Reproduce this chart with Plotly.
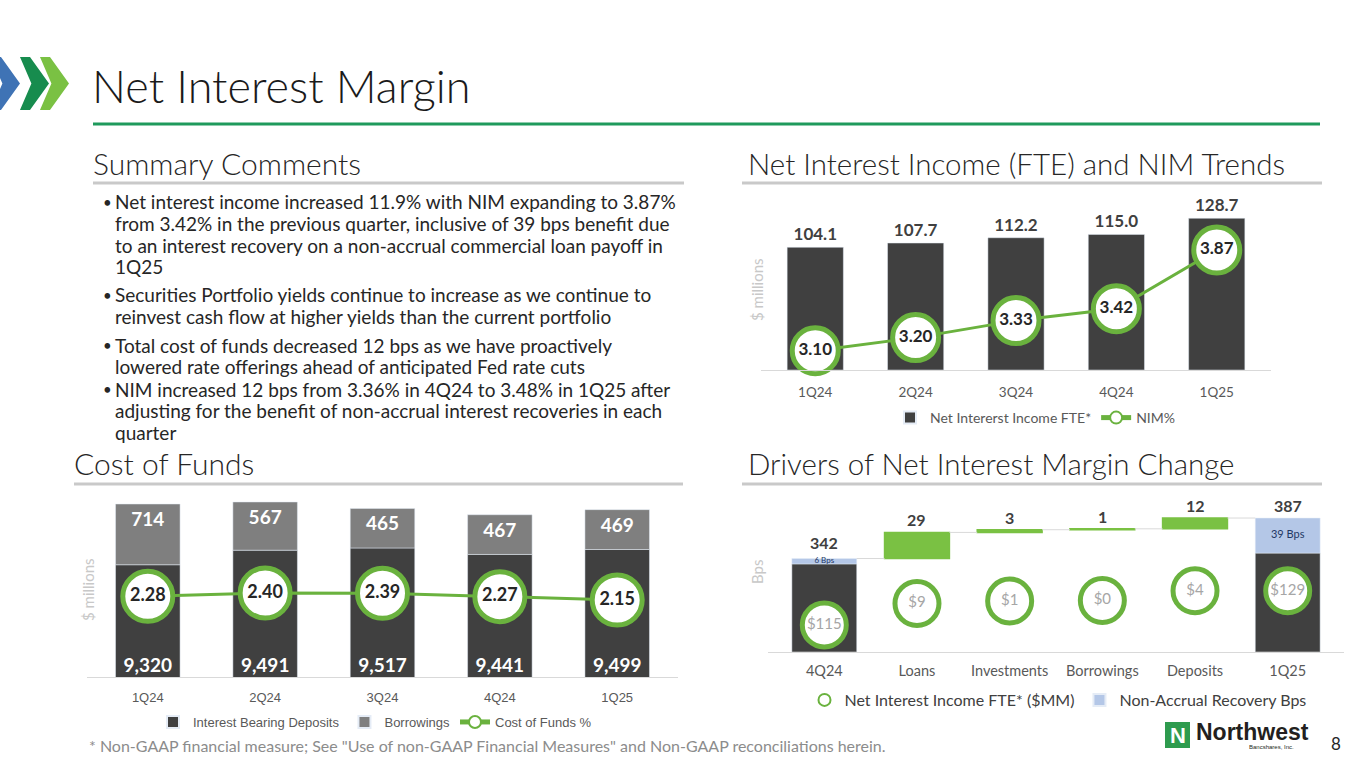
import plotly.graph_objects as go

W, H = 1365, 768

# ---------------------------------------------------------------------------
# DATA
# ---------------------------------------------------------------------------
quarters = ["1Q24", "2Q24", "3Q24", "4Q24", "1Q25"]
nii_fte = [104.1, 107.7, 112.2, 115.0, 128.7]          # $ millions
nim_pct = [3.10, 3.20, 3.33, 3.42, 3.87]

deposits = [9320, 9491, 9517, 9441, 9499]             # interest bearing deposits, $MM
borrowings = [714, 567, 465, 467, 469]
cost_of_funds = [2.28, 2.40, 2.39, 2.27, 2.15]

drivers = ["4Q24", "Loans", "Investments", "Borrowings", "Deposits", "1Q25"]
nim_start_bps = 342
driver_bps = [29, 3, 1, 12]
nim_end_bps = 387
recovery_bps = [6, 39]                                # 4Q24, 1Q25
nii_start = 115.0
nii_change = [8.6, 1.0, 0.2, 3.9]
nii_end = 128.7

bullets = [
    ["Net interest income increased 11.9% with NIM expanding to 3.87%",
     "from 3.42% in the previous quarter, inclusive of 39 bps benefit due",
     "to an interest recovery on a non-accrual commercial loan payoff in",
     "1Q25"],
    ["Securities Portfolio yields continue to increase as we continue to",
     "reinvest cash flow at higher yields than the current portfolio"],
    ["Total cost of funds decreased 12 bps as we have proactively",
     "lowered rate offerings ahead of anticipated Fed rate cuts"],
    ["NIM increased 12 bps from 3.36% in 4Q24 to 3.48% in 1Q25 after",
     "adjusting for the benefit of non-accrual interest recoveries in each",
     "quarter"],
]

# ---------------------------------------------------------------------------
# STYLE
# ---------------------------------------------------------------------------
GEO = "Lato, 'Open Sans', sans-serif"
CAL = "'Liberation Sans Narrow', 'Liberation Sans', Arial, sans-serif"
DARK = "#404040"
MID = "#7f7f7f"
GREEN = "#6ab23e"
BAR_GREEN = "#7ac143"
LIGHT_BLUE = "#b4c7e7"
RULE = "#c9c9c9"


def px(x):
    return x / W


def py(y):
    return 1 - y / H


# waterfall levels
levels = [nim_start_bps]
for d in driver_bps:
    levels.append(levels[-1] + d)
nii_levels = [nii_start]
for c in nii_change:
    nii_levels.append(nii_levels[-1] + c)
nii_levels.append(nii_end)
bubble_text = [f"${nii_start:.0f}"] + [f"${c:.0f}" for c in nii_change] + [f"${nii_end:.0f}"]

fig = go.Figure()

# ---------------------------------------------------------------------------
# NET INTEREST INCOME & NIM
# ---------------------------------------------------------------------------
fig.add_trace(go.Bar(
    x=quarters, y=nii_fte, name="Net Intererst Income FTE*", marker_color=DARK, width=0.56,
    text=[f"{v:.1f}" for v in nii_fte], textposition="outside", cliponaxis=False,
    textfont=dict(family=GEO, size=17, color=DARK, weight="bold"),
    xaxis="x", yaxis="y", legend="legend"))
fig.add_trace(go.Scatter(
    x=quarters, y=nim_pct, name="NIM%", mode="lines+markers+text",
    line=dict(color=GREEN, width=3),
    marker=dict(size=46, color="white", line=dict(color=GREEN, width=5)),
    text=[f"{v:.2f}" for v in nim_pct], textposition="middle center", cliponaxis=False,
    textfont=dict(family=GEO, size=17, color="#262626", weight="bold"),
    xaxis="x", yaxis="y2", legend="legend"))

# ---------------------------------------------------------------------------
# COST OF FUNDS
# ---------------------------------------------------------------------------
COF_MIN = 8000
fig.add_trace(go.Bar(
    x=quarters, y=deposits, name="Interest Bearing Deposits", marker_color=DARK, width=0.55,
    xaxis="x2", yaxis="y3", legend="legend2"))
fig.add_trace(go.Bar(
    x=quarters, y=borrowings, base=deposits, name="Borrowings", marker_color=MID, width=0.55,
    text=[f"{v:,}" for v in borrowings], textposition="inside", insidetextanchor="end",
    textfont=dict(family=GEO, size=19, color="white", weight="bold"),
    xaxis="x2", yaxis="y3", legend="legend2"))
fig.add_trace(go.Scatter(
    x=quarters, y=[COF_MIN] * len(quarters), mode="text", showlegend=False,
    text=[f"{v:,}" for v in deposits], textposition="top center", cliponaxis=False,
    textfont=dict(family=GEO, size=19, color="white", weight="bold"),
    xaxis="x2", yaxis="y3", hoverinfo="skip"))
fig.add_trace(go.Scatter(
    x=quarters, y=cost_of_funds, name="Cost of Funds %", mode="lines+markers+text",
    line=dict(color=GREEN, width=3),
    marker=dict(size=50, color="white", line=dict(color=GREEN, width=5)),
    text=[f"{v:.2f}" for v in cost_of_funds], textposition="middle center", cliponaxis=False,
    textfont=dict(family=GEO, size=18, color="#262626", weight="bold"),
    xaxis="x2", yaxis="y4", legend="legend2"))

# ---------------------------------------------------------------------------
# DRIVERS OF NIM CHANGE (waterfall)
# ---------------------------------------------------------------------------
WF_W = 0.70
ends = [drivers[0], drivers[-1]]
core = [nim_start_bps - recovery_bps[0], nim_end_bps - recovery_bps[1]]
fig.add_trace(go.Bar(
    x=ends, y=core, marker_color=DARK, width=WF_W, showlegend=False,
    xaxis="x3", yaxis="y5", hoverinfo="skip"))
fig.add_trace(go.Bar(
    x=drivers[1:5], y=driver_bps, base=levels[:-1], width=WF_W, showlegend=False,
    marker=dict(color=BAR_GREEN, line=dict(color=BAR_GREEN, width=1.5)),
    xaxis="x3", yaxis="y5"))
fig.add_trace(go.Scatter(
    x=drivers, y=nii_levels, name="Net Interest Income FTE* ($MM)", mode="markers+text",
    marker=dict(size=44, color="white", line=dict(color=GREEN, width=5)),
    text=bubble_text, textposition="middle center", cliponaxis=False,
    textfont=dict(family=GEO, size=15, color="#a6a6a6"),
    xaxis="x3", yaxis="y6", legend="legend3"))
fig.add_trace(go.Bar(
    x=ends, y=recovery_bps, base=core, name="Non-Accrual Recovery Bps", marker_color=LIGHT_BLUE,
    width=WF_W, xaxis="x3", yaxis="y5", legend="legend3"))
fig.add_trace(go.Scatter(
    x=ends, y=[c + r / 2 for c, r in zip(core, recovery_bps)], mode="text", showlegend=False,
    text=[f"{r} Bps" for r in recovery_bps], textposition="middle center", cliponaxis=False,
    textfont=dict(family=GEO, size=[8, 11], color="#1f3864"),
    xaxis="x3", yaxis="y5", hoverinfo="skip"))

shapes = []
annotations = []

# step labels above each waterfall bar
tops = [nim_start_bps] + levels[1:] + [nim_end_bps]
top_text = [str(nim_start_bps)] + [str(d) for d in driver_bps] + [str(nim_end_bps)]
for i, (cat, t, s) in enumerate(zip(drivers, tops, top_text)):
    annotations.append(dict(x=cat, y=t, xref="x3", yref="y5", text=s, showarrow=False,
                            yanchor="bottom", yshift=5 if i == 0 else 1,
                            font=dict(family=GEO, size=16, color=DARK, weight="bold")))

# connector lines between waterfall steps
step_levels = levels + [nim_end_bps]
for i in range(len(drivers) - 1):
    shapes.append(dict(type="line", xref="x3", yref="y5",
                       x0=i + WF_W / 2, x1=i + 1 - WF_W / 2,
                       y0=step_levels[i], y1=step_levels[i],
                       line=dict(color="#d9d9d9", width=1)))

# ---------------------------------------------------------------------------
# SLIDE DECORATION
# ---------------------------------------------------------------------------
def chevron(x0, color, t=10, d=19, top=57, bot=110):
    mid = (top + bot) / 2
    pts = [(x0, top), (x0 + t, top), (x0 + t + d, mid), (x0 + t, bot), (x0, bot), (x0 + d * 0.6, mid)]
    path = "M " + " L ".join(f"{px(a):.5f},{py(b):.5f}" for a, b in pts) + " Z"
    return dict(type="path", xref="paper", yref="paper", path=path, fillcolor=color, line=dict(width=0))


shapes += [chevron(-9, "#3f73b5"), chevron(20, "#178c4e"), chevron(40, "#7ac143")]


def rule(x0, x1, y, color, width):
    return dict(type="line", xref="paper", yref="paper", x0=px(x0), x1=px(x1), y0=py(y), y1=py(y),
                line=dict(color=color, width=width))


shapes += [
    rule(93, 1320, 124, "#1f9a5c", 3),
    rule(93, 684, 183, RULE, 3),
    rule(742, 1322, 183, RULE, 3),
    rule(74, 683, 484, RULE, 3),
    rule(742, 1322, 484, RULE, 3),
]
# logo box
shapes.append(dict(type="rect", xref="paper", yref="paper", x0=px(1165), x1=px(1190), y0=py(748), y1=py(722),
                   fillcolor="#2e9b4e", line=dict(width=0)))


def text(x, y, s, size, color="#262626", family=GEO, weight=None, anchor="left", angle=0):
    f = dict(family=family, size=size, color=color)
    if weight:
        f["weight"] = weight
    annotations.append(dict(x=px(x), y=py(y), xref="paper", yref="paper", text=s, showarrow=False,
                            xanchor=anchor, yanchor="middle", font=f, textangle=angle))


text(90, 86, "Net Interest Margin", 45, "#1a1a1a", weight=300)
text(91, 163, "Summary Comments", 30, weight=300)
text(746, 163, "Net Interest Income (FTE) and NIM Trends", 29.5, weight=300)
text(72, 463, "Cost of Funds", 30, weight=300)
text(746, 463, "Drivers of Net Interest Margin Change", 29.5, weight=300)

starts = [202, 295, 345, 389]
for lines, y0 in zip(bullets, starts):
    text(101, y0, "•", 15)
    for k, line in enumerate(lines):
        text(113, y0 + k * 21.5, line, 19)

text(757, 290, "$ millions", 15, "#c8c8c8", angle=-90, anchor="center")
text(88, 590, "$ millions", 15, "#c8c8c8", angle=-90, anchor="center")
text(757, 572, "Bps", 15, "#c8c8c8", angle=-90, anchor="center")

text(87, 745, "* Non-GAAP financial measure; See \"Use of non-GAAP Financial Measures\" and Non-GAAP reconciliations herein.",
     16, "#8c8c8c")
text(1177.5, 735, "N", 22, "white", family="'Liberation Sans', Arial", weight="bold", anchor="center")
text(1194, 732, "Northwest", 23, "#231f20", family="'Liberation Sans', Arial", weight="bold")
text(1296, 747, "Bancshares, Inc.", 6, "#231f20", family="'Liberation Sans', Arial", anchor="right")
text(1336, 743, "8", 17, "#262626", anchor="center")

# ---------------------------------------------------------------------------
# LAYOUT
# ---------------------------------------------------------------------------
hidden = dict(visible=False, showgrid=False, zeroline=False, fixedrange=True)
cat_axis = dict(showline=True, linecolor="#d9d9d9", linewidth=1, showgrid=False, zeroline=False,
                ticks="", fixedrange=True, type="category", categoryorder="array")

fig.update_layout(
    width=W, height=H, margin=dict(l=0, r=0, t=0, b=0),
    paper_bgcolor="white", plot_bgcolor="rgba(0,0,0,0)",
    barmode="overlay", showlegend=True,
    xaxis=dict(cat_axis, categoryarray=quarters, domain=[px(761), px(1271)], anchor="y",
               ticklabelstandoff=10, tickfont=dict(family=GEO, size=13.5, color="#595959")),
    yaxis=dict(hidden, domain=[py(370), py(200)], range=[0, 144.2]),
    yaxis2=dict(hidden, overlaying="y", range=[2.9525, 4.252]),
    xaxis2=dict(cat_axis, categoryarray=quarters, domain=[px(87), px(678)], anchor="y3",
                ticklabelstandoff=8, tickfont=dict(family=CAL, size=13, color="#595959")),
    yaxis3=dict(hidden, domain=[py(677), py(495)], range=[COF_MIN, 10140], anchor="x2"),
    yaxis4=dict(hidden, overlaying="y3", range=[-0.6, 5.9], anchor="x2"),
    xaxis3=dict(cat_axis, categoryarray=drivers, domain=[px(768), px(1344)], anchor="y5",
                ticklabelstandoff=6, tickfont=dict(family=GEO, size=14.5, color="#595959")),
    yaxis5=dict(hidden, domain=[py(651.7), py(495)], range=[238.4, 412.6], anchor="x3"),
    yaxis6=dict(hidden, overlaying="y5", range=[104.32, 167], anchor="x3"),
    legend=dict(x=px(1035), y=py(418), xanchor="center", yanchor="middle", orientation="h",
                itemsizing="constant", bgcolor="rgba(0,0,0,0)",
                font=dict(family=GEO, size=14, color="#595959")),
    legend2=dict(x=px(375), y=py(722), xanchor="center", yanchor="middle", orientation="h",
                 itemsizing="constant", bgcolor="rgba(0,0,0,0)",
                 font=dict(family=CAL, size=13, color="#595959")),
    legend3=dict(x=px(1058), y=py(700), xanchor="center", yanchor="middle", orientation="h",
                 itemsizing="constant", bgcolor="rgba(0,0,0,0)",
                 font=dict(family=GEO, size=16, color=DARK)),
    shapes=shapes,
    annotations=annotations,
)

fig.write_html("out.html", config={"displayModeBar": False},
               post_script="document.body.style.margin='0';")
